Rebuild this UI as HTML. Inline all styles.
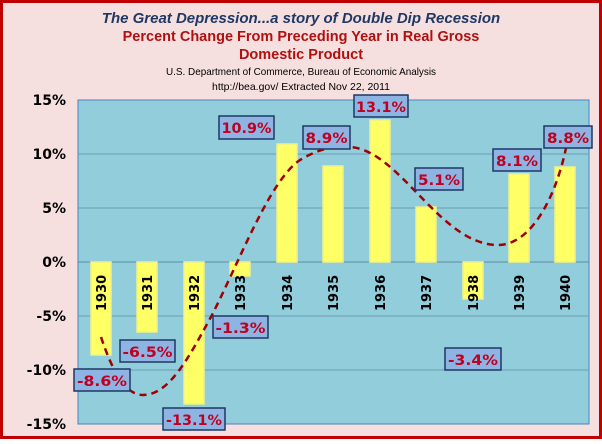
<!DOCTYPE html>
<html><head><meta charset="utf-8"><style>
body{margin:0;width:602px;height:439px;overflow:hidden;background:#fff}
</style></head><body>
<svg width="602" height="439" xmlns="http://www.w3.org/2000/svg" font-family="Liberation Sans, sans-serif">
<rect x="1.5" y="1.5" width="599" height="436" fill="#f6dfdf" stroke="#c00000" stroke-width="3"/>
<text x="301" y="23" text-anchor="middle" font-size="15" font-weight="bold" font-style="italic" fill="#1f3864">The Great Depression...a story of Double Dip Recession</text>
<text x="301" y="41" text-anchor="middle" font-size="14.5" font-weight="bold" fill="#b01010">Percent Change From Preceding Year in Real Gross</text>
<text x="301" y="59" text-anchor="middle" font-size="14.5" font-weight="bold" fill="#b01010">Domestic Product</text>
<text x="301" y="75" text-anchor="middle" font-size="10.5" fill="#000" textLength="270" lengthAdjust="spacingAndGlyphs">U.S. Department of Commerce, Bureau of Economic Analysis</text>
<text x="301" y="90" text-anchor="middle" font-size="10.5" fill="#000" textLength="178" lengthAdjust="spacingAndGlyphs">http://bea.gov/  Extracted Nov 22, 2011</text>
<rect x="78" y="100" width="511" height="324" fill="#92cddc" stroke="#4f81bd" stroke-width="1"/>
<g stroke="#6a9fb5" stroke-width="1">
<line x1="78" x2="589" y1="154" y2="154"/><line x1="78" x2="589" y1="208" y2="208"/>
<line x1="78" x2="589" y1="316" y2="316"/><line x1="78" x2="589" y1="370" y2="370"/>
<line x1="78" x2="589" y1="262" y2="262" stroke="#5a8fa5"/>
</g>
<g font-size="14" font-weight="bold" text-anchor="end" fill="#000" font-family="DejaVu Sans, sans-serif">
<text x="66" y="105">15%</text><text x="66" y="159">10%</text><text x="66" y="213">5%</text>
<text x="66" y="267">0%</text><text x="66" y="321">-5%</text><text x="66" y="375">-10%</text><text x="66" y="429">-15%</text>
</g>
<g fill="#ffff66" stroke="#f0f08a" stroke-width="1.5">
<rect x="91" y="262" width="20" height="93"/>
<rect x="137" y="262" width="20" height="70"/>
<rect x="184" y="262" width="20" height="142"/>
<rect x="230" y="262" width="20" height="14"/>
<rect x="277" y="144" width="20" height="118"/>
<rect x="323" y="166" width="20" height="96"/>
<rect x="370" y="120" width="20" height="142"/>
<rect x="416" y="207" width="20" height="55"/>
<rect x="463" y="262" width="20" height="37"/>
<rect x="509" y="174" width="20" height="88"/>
<rect x="555" y="167" width="20" height="95"/>
</g>
<g font-size="13" font-weight="bold" fill="#000" font-family="DejaVu Sans, sans-serif">
<text transform="translate(106,311) rotate(-90)">1930</text>
<text transform="translate(152,311) rotate(-90)">1931</text>
<text transform="translate(199,311) rotate(-90)">1932</text>
<text transform="translate(245,311) rotate(-90)">1933</text>
<text transform="translate(292,311) rotate(-90)">1934</text>
<text transform="translate(338,311) rotate(-90)">1935</text>
<text transform="translate(385,311) rotate(-90)">1936</text>
<text transform="translate(431,311) rotate(-90)">1937</text>
<text transform="translate(478,311) rotate(-90)">1938</text>
<text transform="translate(524,311) rotate(-90)">1939</text>
<text transform="translate(570,311) rotate(-90)">1940</text>
</g>
<path d="M101,337 C112,370 125,395 143,395 C170,395 190,355 212,315 C240,260 270,180 300,160 C320,148 335,146 350,147 C400,150 440,245 498,245 C530,245 555,200 566,148" fill="none" stroke="#a00000" stroke-width="2.5" stroke-dasharray="7,5"/>
<g fill="#8db4e2" stroke="#1f3864" stroke-width="1.5">
<rect x="219" y="116" width="55" height="23"/>
<rect x="303" y="126" width="47" height="23"/>
<rect x="354" y="95" width="54" height="22"/>
<rect x="415" y="168" width="48" height="22"/>
<rect x="493" y="149" width="48" height="22"/>
<rect x="544" y="126" width="48" height="22"/>
<rect x="74" y="369" width="56" height="22"/>
<rect x="120" y="340" width="55" height="22"/>
<rect x="163" y="408" width="62" height="22"/>
<rect x="213" y="316" width="55" height="22"/>
<rect x="445" y="348" width="56" height="22"/>
</g>
<g font-size="14" font-weight="bold" fill="#c00020" text-anchor="middle" font-family="DejaVu Sans, sans-serif">
<text x="246.5" y="133" textLength="50" lengthAdjust="spacingAndGlyphs">10.9%</text>
<text x="326.5" y="143" textLength="42" lengthAdjust="spacingAndGlyphs">8.9%</text>
<text x="381" y="112" textLength="50" lengthAdjust="spacingAndGlyphs">13.1%</text>
<text x="439" y="185" textLength="42" lengthAdjust="spacingAndGlyphs">5.1%</text>
<text x="517" y="166" textLength="42" lengthAdjust="spacingAndGlyphs">8.1%</text>
<text x="568" y="143" textLength="42" lengthAdjust="spacingAndGlyphs">8.8%</text>
<text x="102" y="386" textLength="50" lengthAdjust="spacingAndGlyphs">-8.6%</text>
<text x="147.5" y="357" textLength="50" lengthAdjust="spacingAndGlyphs">-6.5%</text>
<text x="194" y="425" textLength="56" lengthAdjust="spacingAndGlyphs">-13.1%</text>
<text x="240.5" y="333" textLength="50" lengthAdjust="spacingAndGlyphs">-1.3%</text>
<text x="473" y="365" textLength="50" lengthAdjust="spacingAndGlyphs">-3.4%</text>
</g>
</svg>
</body></html>
